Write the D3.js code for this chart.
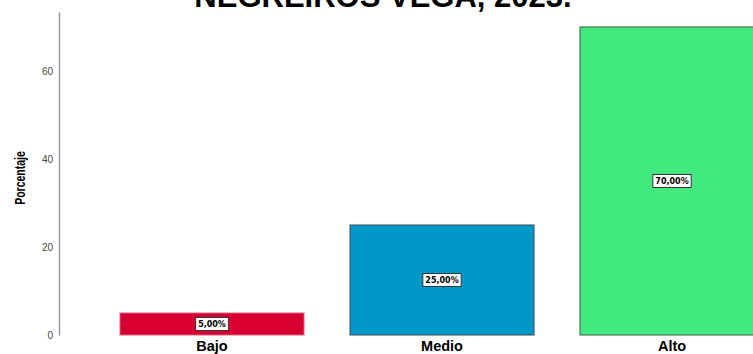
<!DOCTYPE html>
<html>
<head>
<meta charset="utf-8">
<script src="https://cdn.jsdelivr.net/npm/d3@7"></script>
<style>
  html, body { margin: 0; padding: 0; background: #fff; }
  svg { display: block; }
</style>
</head>
<body>
<svg id="chart" width="753" height="354"></svg>
<script>
// Nivel de percepción, porcentaje por categoría
const categories = ["Bajo", "Medio", "Alto"];
const values = [5, 25, 70];
const valueLabels = ["5,00%", "25,00%", "70,00%"];
const barColors = ["#d70031", "#0098c9", "#42e97f"];
const barStrokes = ["#e35f7a", "#3f4a52", "#3f5a48"];
const yTicks = [0, 20, 40, 60];
const titleText = "NEGREIROS VEGA, 2023.";
const yTitle = "Porcentaje";

const svg = d3.select("#chart");

const y = d3.scaleLinear().domain([0, 73.4]).range([335, 12]);
const x = d3.scaleBand().domain(categories).range([97, 787])
  .paddingInner(0.2).paddingOuter(0.1);

// Title (partly above the visible area)
svg.append("text")
  .attr("x", 383).attr("y", 7)
  .attr("text-anchor", "middle")
  .attr("font-family", "Liberation Sans, Arial, sans-serif")
  .attr("font-weight", "bold")
  .attr("font-size", 31)
  .attr("fill", "#000")
  .text(titleText);

// Bars
svg.selectAll("rect.bar")
  .data(values)
  .join("rect")
  .attr("class", "bar")
  .attr("x", (d, i) => x(categories[i]))
  .attr("y", d => y(d))
  .attr("width", x.bandwidth())
  .attr("height", d => y(0) - y(d))
  .attr("fill", (d, i) => barColors[i])
  .attr("stroke", (d, i) => barStrokes[i])
  .attr("stroke-width", 1);

// Y axis
const yAxis = d3.axisLeft(y).tickValues(yTicks).tickSize(0).tickPadding(6)
  .tickFormat(d3.format("d"));
const gy = svg.append("g").attr("transform", "translate(59,0)").call(yAxis);
gy.select(".domain").attr("stroke", "#9a9a9a").attr("stroke-width", 1.5);
gy.selectAll("text")
  .attr("font-family", "Liberation Sans, Arial, sans-serif")
  .attr("font-size", 10)
  .attr("fill", "#444");

// Y axis title (condensed bold)
svg.append("text")
  .attr("transform", "translate(25,178) rotate(-90) scale(0.7,1)")
  .attr("text-anchor", "middle")
  .attr("font-family", "Liberation Sans, Arial, sans-serif")
  .attr("font-weight", "bold")
  .attr("font-size", 15)
  .attr("fill", "#000")
  .text(yTitle);

// X axis category labels
const xAxis = d3.axisBottom(x).tickSize(0).tickPadding(6);
const gx = svg.append("g").attr("transform", "translate(0,335)").call(xAxis);
gx.select(".domain").remove();
gx.selectAll("text")
  .attr("font-family", "Liberation Sans, Arial, sans-serif")
  .attr("font-weight", "bold")
  .attr("font-size", 14.5)
  .attr("fill", "#000");

// Value labels in boxes at bar centres
const labels = svg.selectAll("g.vlabel")
  .data(values)
  .join("g")
  .attr("class", "vlabel")
  .attr("transform", (d, i) =>
    `translate(${x(categories[i]) + x.bandwidth() / 2},${(y(d) + y(0)) / 2})`);

labels.append("text")
  .attr("text-anchor", "middle")
  .attr("dy", "0.35em")
  .attr("font-family", "DejaVu Sans, sans-serif")
  .attr("font-weight", "bold")
  .attr("font-size", 8)
  .attr("fill", "#000")
  .text((d, i) => valueLabels[i]);

labels.each(function () {
  const g = d3.select(this);
  const bb = g.select("text").node().getBBox();
  g.insert("rect", "text")
    .attr("x", bb.x - 2.5)
    .attr("y", -6.5)
    .attr("width", bb.width + 5)
    .attr("height", 13)
    .attr("fill", "#fff")
    .attr("stroke", "#333")
    .attr("stroke-width", 1);
});
</script>
</body>
</html>
